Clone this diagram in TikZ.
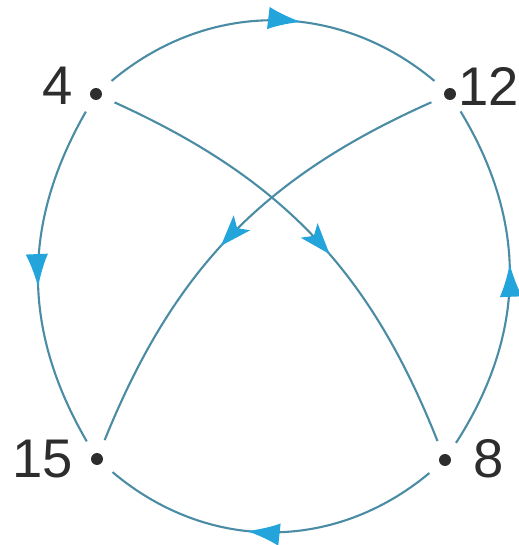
\documentclass[tikz,border=0pt]{standalone}
\usepackage{fontspec}
\setmainfont{Liberation Sans}
\usetikzlibrary{arrows.meta,decorations.markings}
\definecolor{edgec}{RGB}{75,140,165}
\definecolor{arrc}{RGB}{35,165,220}
\definecolor{dotc}{RGB}{45,45,45}
\begin{document}
\begin{tikzpicture}[x=0.02cm,y=0.02cm,
  vertex/.style={circle,minimum size=0.8cm,inner sep=0pt,
    path picture={\fill[dotc] (path picture bounding box.center) circle (0.12cm);}},
  lab/.style={text=dotc,font=\fontsize{31}{31}\selectfont,inner sep=0pt},
  edge/.style={draw=edgec,line width=1.2pt,postaction={decorate}},
  mkc/.style={decoration={markings,mark=at position #1 with {\arrow{Latex[length=0.66cm,width=0.45cm,color=arrc]}}}},
  mkd/.style={decoration={markings,mark=at position #1 with {\arrow{Stealth[length=0.62cm,width=0.44cm,inset=0.14cm,color=arrc]}}}}]
\useasboundingbox (0,0) rectangle (519,545);
\node[vertex] (v4) at (96,451) {};
\node[vertex] (v12) at (450,451) {};
\node[vertex] (v15) at (97,86) {};
\node[vertex] (v8) at (445,85) {};
\node[lab] (l4) at (58,459) {4};
\node[lab] (l12) at (489,459) {12};
\node[lab] (l15) at (43,86) {15};
\node[lab] (l8) at (489,86) {8};
\draw[edge,mkc=0.58] (v4) to[bend left=40] (v12);
\draw[edge,mkc=0.53] (v4) to[bend right=30] (v15);
\draw[edge,mkc=0.54] (v8) to[bend right=32] (v12);
\draw[edge,mkc=0.57] (v8) to[bend left=40] (v15);
\draw[edge,mkd=0.55] (v4) to[bend left=22] (v8);
\draw[edge,mkd=0.53] (v12) to[bend right=22] (v15);
\end{tikzpicture}
\end{document}
